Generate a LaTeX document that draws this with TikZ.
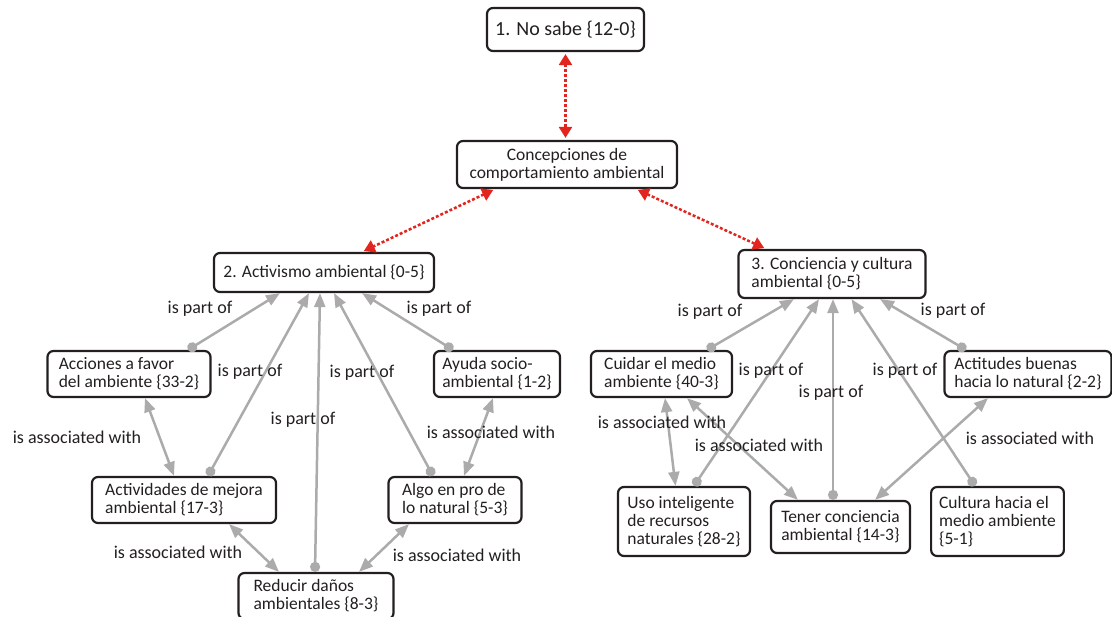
\documentclass[tikz,border=0pt]{standalone}
\usepackage{fontspec}
\setmainfont{Carlito}
\usetikzlibrary{arrows.meta}
\definecolor{linkgray}{HTML}{ABABAB}
\definecolor{linkred}{HTML}{E2261F}
\definecolor{inkblack}{HTML}{231F20}
\begin{document}
\begin{tikzpicture}[x=1pt,y=-1pt,
  box/.style={draw=inkblack,line width=2.2pt,rounded corners=6pt,text=inkblack,
    font=\fontsize{17.5}{18}\selectfont,align=left,inner xsep=8pt,inner ysep=0pt},
  lbl/.style={text=inkblack,font=\fontsize{18}{18}\selectfont,inner sep=0pt},
  partof/.style={linkgray,line width=2.5pt,{Circle[length=10pt]}-{Triangle[length=14pt,width=11pt]}},
  assoc/.style={linkgray,line width=2.5pt,{Triangle[length=14pt,width=11pt]}-{Triangle[length=14pt,width=11pt]}},
  redlink/.style={linkred,line width=2.5pt,dash pattern=on 3pt off 2pt,shorten <=2pt,shorten >=2pt,
    {Triangle[length=11pt,width=13pt]}-{Triangle[length=11pt,width=13pt]}}]
  \useasboundingbox (0,0) rectangle (1112,617);
  \node[box,align=center,font=\fontsize{20}{22}\selectfont,minimum width=157pt,minimum height=43pt] (nosabe) at (565.5,29.5) {1. No sabe \{12-0\}};
  \node[box,align=center,minimum width=220pt,minimum height=47pt] (concep) at (567,164.5) {Concepciones de\\comportamiento ambiental};
  \node[box,minimum width=220pt,minimum height=39pt] (activ) at (324,272.5) {2. Activismo ambiental \{0-5\}};
  \node[box,minimum width=187pt,minimum height=48pt] (concien) at (832,274) {3. Conciencia y cultura\\ambiental \{0-5\}};
  \node[box,minimum width=163pt,minimum height=46pt] (acciones) at (129,374) {Acciones a favor\\del ambiente \{33-2\}};
  \node[box,minimum width=126pt,minimum height=46pt] (ayuda) at (497,374) {Ayuda socio-\\ambiental \{1-2\}};
  \node[box,minimum width=184pt,minimum height=46pt] (activid) at (184,500) {Actividades de mejora\\ambiental \{17-3\}};
  \node[box,minimum width=133pt,minimum height=46pt] (algo) at (455,500) {Algo en pro de\\lo natural \{5-3\}};
  \node[box,minimum width=155pt,minimum height=46pt] (reducir) at (316,596) {Reducir daños\\ambientales \{8-3\}};
  \node[box,minimum width=141pt,minimum height=46pt] (cuidar) at (661.5,374) {Cuidar el medio\\ambiente \{40-3\}};
  \node[box,minimum width=167pt,minimum height=46pt] (actitud) at (1028,374) {Actitudes buenas\\hacia lo natural \{2-2\}};
  \node[box,minimum width=132pt,minimum height=69pt] (uso) at (684,521.5) {Uso inteligente\\de recursos\\naturales \{28-2\}};
  \node[box,minimum width=139pt,minimum height=52pt] (tener) at (840.5,527) {Tener conciencia\\ambiental \{14-3\}};
  \node[box,minimum width=132pt,minimum height=69pt] (cultura) at (997.5,521.5) {Cultura hacia el\\medio ambiente\\\{5-1\}};

  \draw[redlink] (nosabe.south) -- (concep.north -| nosabe.south);
  \draw[redlink] ([xshift=-72pt]concep.south) -- ([xshift=38pt]activ.north);
  \draw[redlink] ([xshift=69pt]concep.south) -- ([xshift=-66pt]concien.north);

  \draw[partof] ([xshift=59pt]acciones.north) -- ([xshift=-44pt]activ.south);
  \draw[partof] ([xshift=24pt]activid.north) -- ([xshift=-15pt]activ.south);
  \draw[partof] ([xshift=-1pt]reducir.north) -- ([xshift=-4pt]activ.south);
  \draw[partof] ([xshift=-22pt]algo.north) -- ([xshift=10pt]activ.south);
  \draw[partof] ([xshift=-44pt]ayuda.north) -- ([xshift=38pt]activ.south);
  \draw[assoc] ([xshift=16pt]acciones.south) -- ([xshift=-10pt]activid.north);
  \draw[assoc] ([xshift=-4pt]ayuda.south) -- ([xshift=9pt]algo.north);
  \draw[assoc] ([xshift=45pt]activid.south) -- ([xshift=-37pt]reducir.north);
  \draw[assoc] ([xshift=-46pt]algo.south) -- ([xshift=43pt]reducir.north);

  \draw[partof] ([xshift=45.5pt]cuidar.north) -- ([xshift=-38pt]concien.south);
  \draw[partof] ([xshift=10pt]uso.north) -- ([xshift=-13pt]concien.south);
  \draw[partof] ([xshift=-7.5pt]tener.north) -- ([xshift=1pt]concien.south);
  \draw[partof] ([xshift=-22.5pt]cultura.north) -- ([xshift=19.5pt]concien.south);
  \draw[partof] ([xshift=-62pt]actitud.north) -- ([xshift=48pt]concien.south);
  \draw[assoc] ([xshift=3.5pt]cuidar.south) -- ([xshift=-8.5pt]uso.north);
  \draw[assoc] ([xshift=25.5pt]cuidar.south) -- ([xshift=-42.5pt]tener.north);
  \draw[assoc] ([xshift=-40pt]actitud.south) -- ([xshift=34.5pt]tener.north);

  \node[lbl] (pAcc) at (200,309) {is part of};
  \node[lbl] (pAct) at (250,372) {is part of};
  \node[lbl] (pRed) at (303,420) {is part of};
  \node[lbl] (pAlg) at (362,373) {is part of};
  \node[lbl] (pAyu) at (439,309) {is part of};
  \node[lbl] (aAcc) at (77,437) {is associated with};
  \node[lbl] (aAyu) at (491,432) {is associated with};
  \node[lbl] (aAct) at (178,552) {is associated with};
  \node[lbl] (aAlg) at (457,555) {is associated with};
  \node[lbl] (pCui) at (710,312) {is part of};
  \node[lbl] (pUso) at (771,371) {is part of};
  \node[lbl] (pTen) at (831,393) {is part of};
  \node[lbl] (pCul) at (905,371) {is part of};
  \node[lbl] (pAtt) at (953,311) {is part of};
  \node[lbl] (aUso) at (662,422) {is associated with};
  \node[lbl] (aTen) at (759,445) {is associated with};
  \node[lbl] (aAtt) at (1030,438) {is associated with};
\end{tikzpicture}
\end{document}
